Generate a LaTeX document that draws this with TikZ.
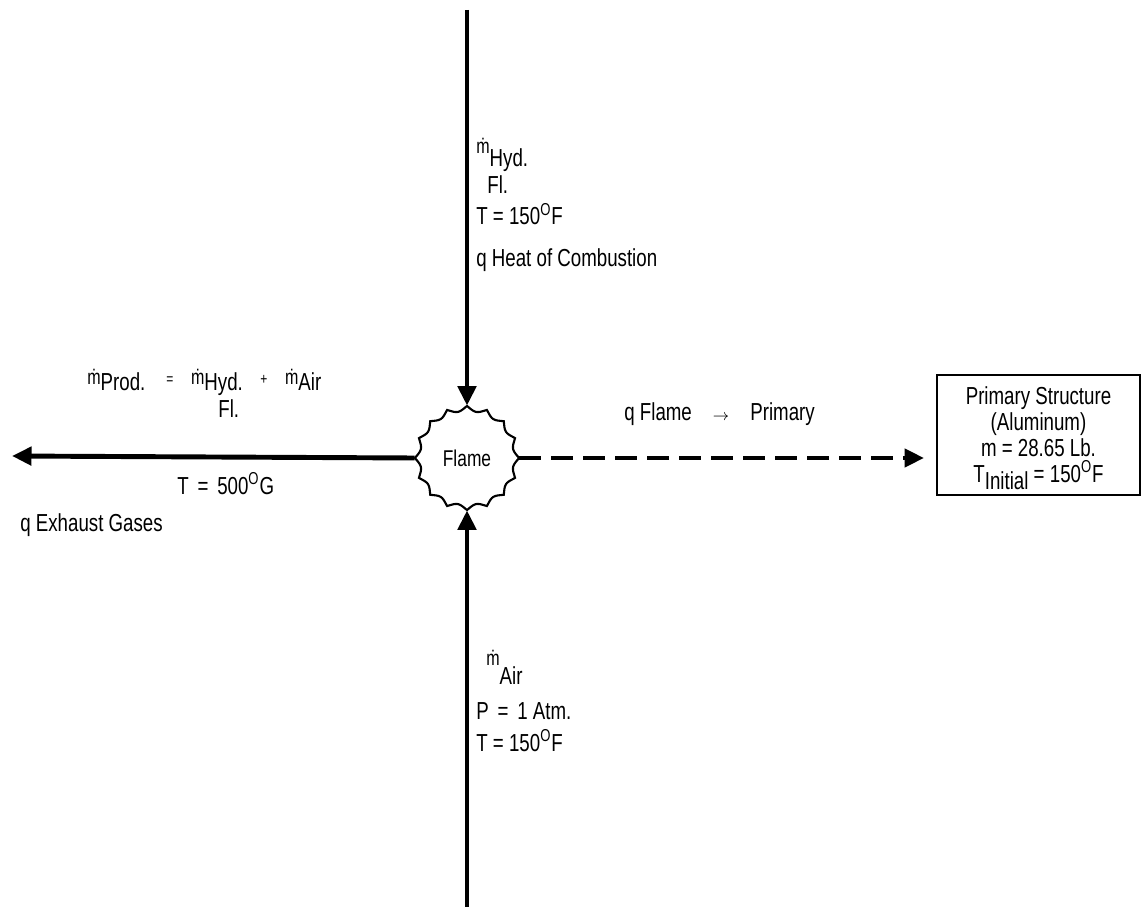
\documentclass[tikz,border=0pt]{standalone}
\usepackage{fontspec}
\setmainfont{Liberation Sans}[FakeStretch=0.76]
\usetikzlibrary{arrows.meta,positioning,calc}
\newcommand{\lowr}[2][0.6ex]{\raisebox{-#1}{#2}}
\newcommand{\mdot}{{\fontsize{12}{14}\selectfont\.{m}}}
\newcommand{\degr}{\textsuperscript{O}}

\begin{document}
\begin{tikzpicture}[
    >={Triangle[length=3.9mm,width=3.6mm]},
    every node/.style={font=\fontsize{14}{14.7}\selectfont},
    flow/.style={->,line width=2.8pt},
    heat/.style={->,line width=2.4pt,dash pattern=on 4.4mm off 2mm},
    lab/.style={inner sep=0pt,anchor=base west},
    struct/.style={rectangle,draw,line width=1.1pt,minimum width=4.06cm,
                   minimum height=2.4cm,align=center,inner sep=2pt}
  ]
  \useasboundingbox (0,0) rectangle (22.86,-18.14);
  %% The flame in the middle
  \node[circle,minimum size=2.08cm,inner sep=0pt,font=\fontsize{13}{15}\selectfont]
        (flame) at (9.34,-9.16) {Flame};
  \draw[line width=1.2pt,shift={(flame.center)}]
        plot[domain=0:360,samples=321] (\x:{1.04-0.1*abs(sin(8*\x))}) -- cycle;
  %% Free ends of the four flows
  \coordinate (topend) at (9.34,-0.2);
  \coordinate (botend) at (9.34,-18.14);
  \coordinate (leftend) at (0.24,-9.12);
  \node[struct] (prim) at (20.77,-8.7)
        {\rule{0pt}{14pt}Primary Structure\\(Aluminum)\\m = 28.65 Lb.\\T\lowr{Initial}\hspace{3pt}=\hspace{3pt}150\degr F};
  \draw[flow] (topend) -- (flame.north);
  \draw[flow] (botend) -- (flame.south);
  \draw[flow] (flame.west) -- (leftend);
  \draw[heat] (flame.east) -- ([xshift=-2.4mm]flame.east -| prim.west);
  %% Hydraulic fluid coming in from the top
  \node[lab] (mhyd)  at (9.52,-3.08)  {\mdot\lowr[1.0ex]{Hyd.}};
  \node[lab] (flhyd) at (9.74,-3.88)  {Fl.};
  \node[lab] (thyd)  at (9.52,-4.5)   {T = 150\degr F};
  \node[lab] (qcomb) at (9.52,-5.34)  {q Heat of Combustion};
  %% Products going out to the left
  \node[lab] (mprod) at (1.74,-7.7)
        {\mdot\lowr[0.4ex]{Prod.}\hspace{12pt}{\small =}\hspace{10pt}\mdot\lowr[0.4ex]{Hyd.}\hspace{10pt}{\small +}\hspace{10pt}\mdot\lowr[0.4ex]{Air}};
  \node[lab] (flprod) at (4.36,-8.36) {Fl.};
  \node[lab] (tprod) at (3.54,-9.88)  {T\hspace{5pt}=\hspace{5pt}500\degr G};
  \node[lab] (qexh)  at (0.4,-10.64)  {q Exhaust Gases};
  %% Heat to the structure
  \node[lab] (qflame) at (12.48,-8.42)
        {q Flame\hspace{12pt}{\small$\rightarrow$}\hspace{12pt}Primary};
  %% Air coming in from the bottom
  \node[lab] (mair) at (9.72,-13.3)   {\mdot\lowr[1.5ex]{Air}};
  \node[lab] (pair) at (9.52,-14.38)  {P\hspace{5pt}=\hspace{5pt}1 Atm.};
  \node[lab] (tair) at (9.52,-15.02)  {T = 150\degr F};
\end{tikzpicture}
\end{document}
